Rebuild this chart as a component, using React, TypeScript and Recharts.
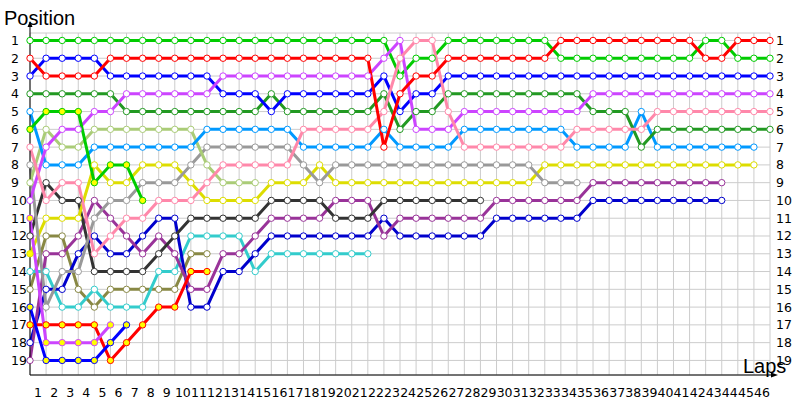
import React from 'react';
import { LineChart, Line, XAxis, YAxis, CartesianGrid } from 'recharts';

// lap numbers (0 = grid) and position ticks
const laps = [0, 1, 2, 3, 4, 5, 6, 7, 8, 9, 10, 11, 12, 13, 14, 15, 16, 17, 18, 19, 20, 21, 22, 23,
    24, 25, 26, 27, 28, 29, 30, 31, 32, 33, 34, 35, 36, 37, 38, 39, 40, 41, 42, 43, 44, 45, 46];
const positions = [1, 2, 3, 4, 5, 6, 7, 8, 9, 10, 11, 12, 13, 14, 15, 16, 17, 18, 19];

// position per lap, starting with the grid slot
const green = [1, 1, 1, 1, 1, 1, 1, 1, 1, 1, 1, 1, 1, 1, 1, 1, 1, 1, 1, 1, 1, 1, 1, 3, 2, 2, 1, 1, 1, 1,
    1, 1, 1, 2, 2, 2, 2, 2, 2, 2, 2, 2, 1, 1, 2, 2, 2];
const red = [2, 3, 3, 3, 3, 2, 2, 2, 2, 2, 2, 2, 2, 2, 2, 2, 2, 2, 2, 2, 2, 2, 7, 4, 3, 3, 2, 2, 2, 2,
    2, 2, 2, 1, 1, 1, 1, 1, 1, 1, 1, 1, 2, 2, 1, 1, 1];
const blue = [3, 2, 2, 2, 2, 3, 3, 3, 3, 3, 3, 3, 4, 4, 4, 5, 4, 4, 4, 4, 4, 4, 3, 5, 4, 4, 3, 3, 3, 3,
    3, 3, 3, 3, 3, 3, 3, 3, 3, 3, 3, 3, 3, 3, 3, 3, 3];
const darkGreen = [4, 4, 4, 4, 4, 4, 5, 5, 5, 5, 5, 5, 5, 5, 5, 4, 5, 5, 5, 5, 5, 5, 4, 6, 5, 5, 4, 4, 4, 4,
    4, 4, 4, 4, 4, 5, 5, 5, 7, 6, 6, 6, 6, 6, 6, 6, 6];
const violet = [10, 7, 6, 6, 5, 5, 4, 4, 4, 4, 4, 4, 3, 3, 3, 3, 3, 3, 3, 3, 3, 3, 2, 1, 6, 6, 6, 5, 5, 5,
    5, 5, 5, 5, 5, 4, 4, 4, 4, 4, 4, 4, 4, 4, 4, 4, 4];
const skyBlue = [5, 8, 8, 8, 7, 7, 7, 7, 7, 7, 7, 6, 6, 6, 6, 6, 6, 7, 7, 7, 7, 7, 6, 7, 7, 7, 7, 6, 6, 6,
    6, 6, 6, 6, 7, 7, 7, 7, 5, 7, 7, 7, 7, 7, 7, 7];
const greenOut = [6, 5, 5, 5, 9, 8, 8, 10];
const lime = [9, 6, 7, 7, 6, 6, 6, 6, 6, 6, 6, 8, 9, 9, 9];
const pink = [7, 10, 9, 9, 13, 12, 11, 11, 10, 10, 10, 9, 8, 8, 8, 8, 8, 6, 6, 6, 6, 6, 5, 2, 1, 1, 5, 7, 7, 7,
    7, 7, 7, 7, 6, 6, 6, 6, 6, 5, 5, 5, 5, 5, 5, 5, 5];
const grey = [8, 16, 14, 14, 11, 10, 10, 9, 9, 9, 8, 7, 7, 7, 7, 7, 7, 8, 9, 8, 8, 8, 8, 8, 8, 8, 8, 8, 8, 8,
    8, 8, 9, 9, 9];
const yellow = [13, 11, 11, 11, 8, 9, 9, 8, 8, 8, 9, 10, 10, 10, 10, 9, 9, 9, 8, 9, 9, 9, 9, 9, 9, 9, 9, 9, 9, 9,
    9, 9, 8, 8, 8, 8, 8, 8, 8, 8, 8, 8, 8, 8, 8, 8];
const black = [12, 9, 10, 10, 14, 14, 14, 14, 13, 12, 11, 11, 11, 11, 11, 10, 10, 10, 10, 11, 11, 11, 10, 10, 10,
    10, 10, 10, 10];
const plum = [19, 13, 13, 12, 10, 11, 12, 13, 12, 13, 15, 15, 13, 13, 12, 11, 11, 11, 11, 10, 10, 10, 12, 11, 11,
    11, 11, 11, 11, 10, 10, 10, 10, 10, 10, 9, 9, 9, 9, 9, 9, 9, 9, 9];
const navy = [18, 15, 15, 13, 12, 13, 13, 12, 11, 11, 16, 16, 14, 14, 13, 12, 12, 12, 12, 12, 12, 12, 11, 12, 12,
    12, 12, 12, 12, 11, 11, 11, 11, 11, 11, 10, 10, 10, 10, 10, 10, 10, 10, 10];
const cyan = [14, 14, 16, 16, 15, 16, 16, 16, 14, 14, 12, 12, 12, 12, 14, 13, 13, 13, 13, 13, 13, 13];
const olive = [15, 12, 12, 15, 16, 15, 15, 15, 15, 15, 13, 13];
const redOut = [17, 17, 17, 17, 17, 19, 18, 17, 16, 16, 14, 14];
const violetOut = [11, 18, 18, 18, 18, 17];
const blueOut = [16, 19, 19, 19, 19, 18, 17];

const series = [
    { key: 'olive', values: olive, color: '#888844', fill: '#fff' },
    { key: 'cyan', values: cyan, color: '#33cccc', fill: '#fff' },
    { key: 'navy', values: navy, color: '#0000cc', fill: '#fff' },
    { key: 'plum', values: plum, color: '#993399', fill: '#fff' },
    { key: 'black', values: black, color: '#333333', fill: '#fff' },
    { key: 'yellow', values: yellow, color: '#dddd00', fill: '#fff' },
    { key: 'grey', values: grey, color: '#999999', fill: '#fff' },
    { key: 'lime', values: lime, color: '#aacc77', fill: '#fff' },
    { key: 'skyBlue', values: skyBlue, color: '#0099ff', fill: '#fff' },
    { key: 'darkGreen', values: darkGreen, color: '#229922', fill: '#fff' },
    { key: 'blue', values: blue, color: '#0000ff', fill: '#fff' },
    { key: 'green', values: green, color: '#00cc00', fill: '#fff' },
    { key: 'violet', values: violet, color: '#cc44ff', fill: '#fff' },
    { key: 'pink', values: pink, color: '#ff88aa', fill: '#fff' },
    { key: 'red', values: red, color: '#ff0000', fill: '#fff' },
    { key: 'greenOut', values: greenOut, color: '#00cc00', fill: '#ffff00' },
    { key: 'redOut', values: redOut, color: '#ff0000', fill: '#ffff00' },
    { key: 'violetOut', values: violetOut, color: '#cc44ff', fill: '#ffff00' },
    { key: 'blueOut', values: blueOut, color: '#0000ff', fill: '#ffff00' },
];

const rows = laps.map((lap, i) => {
    const row: Record<string, number | null> = { lap };
    series.forEach((s) => {
        row[s.key] = s.values[i] ?? null;
    });
    return row;
});

const FONT = '"DejaVu Sans", sans-serif';
const TITLE_FONT = '"Liberation Sans", sans-serif';

const XTick = ({ x, payload }: any) => {
    if (payload.value === 0) return <g />;
    return (
        <text x={x - 8} y={397} textAnchor="middle" fontSize={12.5} fontFamily={FONT} fill="#000">
            {payload.value}
        </text>
    );
};

const LeftTick = ({ y, payload }: any) => (
    <text x={11} y={y + 4.5} textAnchor="start" fontSize={12.5} fontFamily={FONT} fill="#000">
        {payload.value}
    </text>
);

const RightTick = ({ y, payload }: any) => (
    <text x={776} y={y + 4.5} textAnchor="start" fontSize={12.5} fontFamily={FONT} fill="#000">
        {payload.value}
    </text>
);

const makeDot = (color: string, fill: string, firstFill?: string) => (props: any) => {
    const { cx, cy, index } = props;
    if (cx == null || cy == null || props.value == null) return <g key={`d-${index}`} />;
    return (
        <circle
            key={`d-${index}`}
            cx={cx}
            cy={cy}
            r={3.2}
            fill={index === 0 && firstFill ? firstFill : fill}
            stroke={color}
            strokeWidth={1}
        />
    );
};

export default function App() {
    return (
        <div style={{ position: 'absolute', left: 0, top: 0, width: 800, height: 400, background: '#fff' }}>
            <LineChart width={800} height={400} data={rows} margin={{ top: 33, right: 0, bottom: 0, left: 0 }}>
                <CartesianGrid stroke="#cccccc" />
                <XAxis
                    dataKey="lap"
                    type="number"
                    domain={[0, 46]}
                    ticks={laps}
                    interval={0}
                    tick={<XTick />}
                    tickLine={false}
                    axisLine={{ stroke: '#000' }}
                    height={25}
                />
                <YAxis
                    type="number"
                    reversed
                    domain={[0.58, 19.82]}
                    allowDataOverflow
                    ticks={positions}
                    interval={0}
                    tick={<LeftTick />}
                    tickLine={false}
                    axisLine={{ stroke: '#000' }}
                    width={30}
                />
                <YAxis
                    yAxisId="right"
                    orientation="right"
                    type="number"
                    reversed
                    domain={[0.58, 19.82]}
                    allowDataOverflow
                    ticks={positions}
                    interval={0}
                    tick={<RightTick />}
                    tickLine={false}
                    axisLine={false}
                    width={30}
                />
                {series.map((s) => (
                    <Line
                        key={s.key}
                        type="linear"
                        dataKey={s.key}
                        stroke={s.color}
                        strokeWidth={3}
                        dot={makeDot(s.color, s.fill, s.key === 'yellow' ? '#ffff00' : undefined)}
                        activeDot={false}
                        connectNulls={false}
                        isAnimationActive={false}
                    />
                ))}
            </LineChart>
            <svg width={800} height={400} style={{ position: 'absolute', left: 0, top: 0, pointerEvents: 'none' }}>
                <line x1={30} y1={24} x2={30} y2={33} stroke="#000" />
                <path d="M27.5,27 L30,21 L32.5,27 Z" fill="#000" />
                <line x1={770} y1={375} x2={774} y2={375} stroke="#000" />
                <path d="M771,372.5 L778,375 L771,377.5 Z" fill="#000" />
                <text x={4} y={25} fontSize={20} fontFamily={TITLE_FONT} fill="#000">Position</text>
                <text x={743} y={373} fontSize={20} fontFamily={TITLE_FONT} fill="#000">Laps</text>
            </svg>
        </div>
    );
}
